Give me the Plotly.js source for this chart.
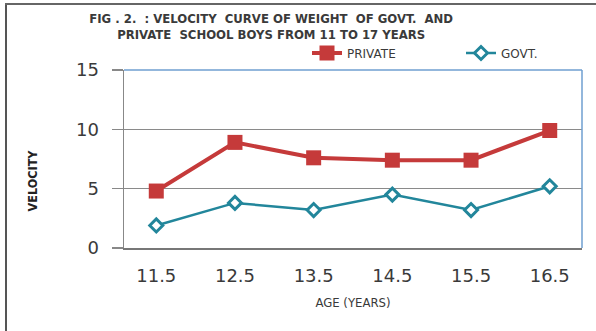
<!DOCTYPE html>
<html>
<head>
<meta charset="utf-8">
<script src="https://cdn.plot.ly/plotly-3.0.1.min.js"></script>
<style>
  html, body { margin: 0; padding: 0; background: #ffffff; }
  #frame { position: absolute; left: 0; top: 0; width: 596px; height: 331px; }
  #edgeL { position: absolute; left: 5px; top: 3px; width: 2px; height: 328px; background: #555; }
  #edgeT { position: absolute; left: 5px; top: 3px; width: 591px; height: 2px; background: #666; }
  #chart { position: absolute; left: 0; top: 0; width: 596px; height: 331px; }
</style>
</head>
<body>
<div id="frame">
  <div id="chart"></div>
  <div id="edgeL"></div>
  <div id="edgeT"></div>
</div>
<script>
// Age groups (years) on the category axis
const ages = ['11.5', '12.5', '13.5', '14.5', '15.5', '16.5'];
// Weight velocity by age group
const privateVelocity = [4.8, 8.9, 7.6, 7.4, 7.4, 9.9];
const govtVelocity = [1.9, 3.8, 3.2, 4.5, 3.2, 5.2];
const yTicks = [0, 5, 10, 15];

const red = '#c53a3a';
const teal = '#22869b';
const ink = '#3a3a3a';
const tickFont = { family: 'DejaVu Sans, Verdana, sans-serif', size: 18, color: ink };
const narrow = 'DejaVu Sans Condensed, DejaVu Sans, sans-serif';
const legendFont = { family: 'DejaVu Sans, sans-serif', size: 12, color: ink };

const traces = [
  {
    x: ages, y: privateVelocity, name: 'PRIVATE', type: 'scatter', mode: 'lines+markers',
    legend: 'legend',
    line: { color: red, width: 4 },
    marker: { symbol: 'square', size: 15, color: red }
  },
  {
    x: ages, y: govtVelocity, name: 'GOVT.', type: 'scatter', mode: 'lines+markers',
    legend: 'legend2',
    line: { color: teal, width: 2.5 },
    marker: { symbol: 'diamond', size: 10, color: '#ffffff', line: { color: teal, width: 3 } }
  }
];

// One legend box per series so each entry sits on its own spot in the header
const legendBox = (x) => ({
  xref: 'container', yref: 'container',
  x: x, xanchor: 'left', y: 1 - 53 / 331, yanchor: 'middle',
  orientation: 'h', font: legendFont, itemclick: false, bgcolor: 'rgba(0,0,0,0)'
});

const layout = {
  width: 596, height: 331,
  margin: { l: 124, r: 14, t: 70, b: 83 },
  paper_bgcolor: '#ffffff', plot_bgcolor: '#ffffff',
  showlegend: true,
  title: {
    text: 'FIG . 2.  : VELOCITY  CURVE OF WEIGHT  OF GOVT.  AND<br>PRIVATE  SCHOOL BOYS FROM 11 TO 17 YEARS',
    font: { family: narrow, size: 13, color: ink, weight: 'bold' },
    x: 0.455, xanchor: 'center', y: 0.932, yanchor: 'middle'
  },
  legend: legendBox(307 / 596),
  legend2: legendBox(461 / 596),
  xaxis: {
    type: 'category', categoryorder: 'array', categoryarray: ages,
    showgrid: false, showline: true, linecolor: '#777', linewidth: 1.5,
    ticks: '', tickfont: tickFont, ticklabelstandoff: 11,
    title: { text: 'AGE (YEARS)', font: { family: narrow, size: 13, color: ink }, standoff: 13 },
    fixedrange: true
  },
  yaxis: {
    range: [0, 15], tickvals: yTicks, ticktext: yTicks.map(String),
    showgrid: true, gridcolor: '#8a8a8a', gridwidth: 1.2,
    showline: true, linecolor: '#888', linewidth: 1.5,
    ticks: 'outside', ticklen: 11, tickcolor: '#888', tickwidth: 1.2,
    tickfont: tickFont, ticklabelstandoff: 9, zeroline: false,
    fixedrange: true
  },
  annotations: [
    {
      text: 'VELOCITY', textangle: -90, showarrow: false,
      xref: 'paper', yref: 'paper', x: -0.2, y: 0.382, xanchor: 'center', yanchor: 'middle',
      font: { family: narrow, size: 12.5, color: '#222', weight: 'bold' }
    }
  ],
  shapes: [
    { type: 'line', xref: 'paper', yref: 'paper', x0: 0, x1: 1, y0: 1, y1: 1, line: { color: '#6f9fd0', width: 1.5 } },
    { type: 'line', xref: 'paper', yref: 'paper', x0: 1, x1: 1, y0: 0, y1: 1, line: { color: '#6f9fd0', width: 1.5 } }
  ]
};

Plotly.newPlot('chart', traces, layout, { displayModeBar: false, staticPlot: true });
</script>
</body>
</html>
